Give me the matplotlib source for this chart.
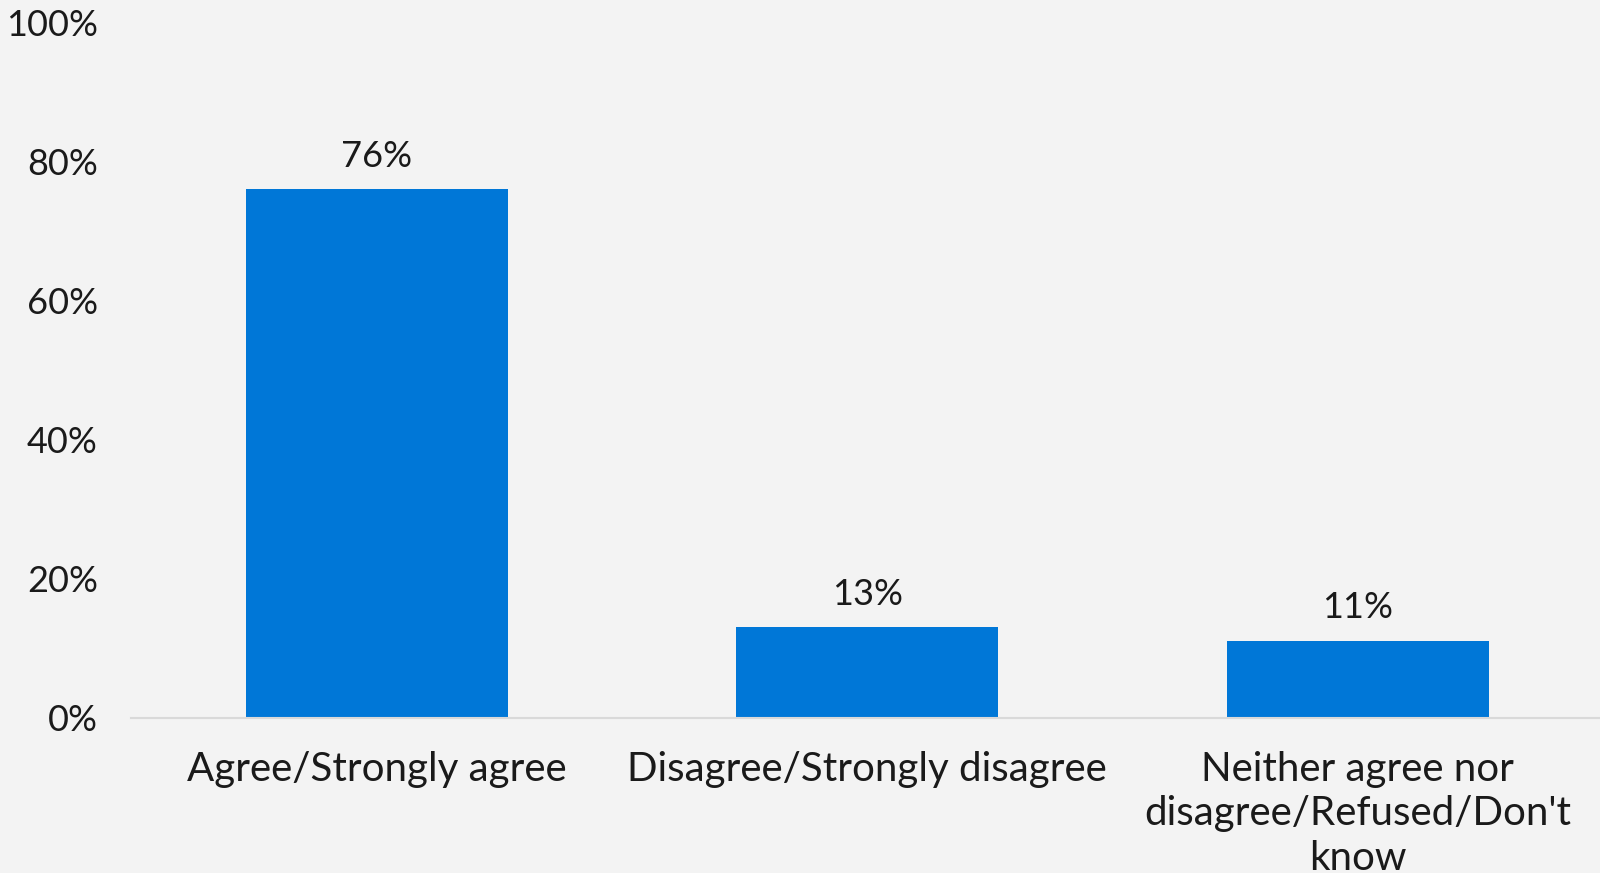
import numpy as np
import matplotlib.pyplot as plt
from matplotlib.ticker import FuncFormatter

categories = ["Agree/Strongly agree",
              "Disagree/Strongly disagree",
              "Neither agree nor\ndisagree/Refused/Don't\nknow"]
values = [76, 13, 11]
yticks = [0, 20, 40, 60, 80, 100]

bg = "#f3f3f3"
bar_color = "#0077d7"

plt.rcParams['font.family'] = ['Lato', 'DejaVu Sans']

fig = plt.figure(figsize=(16, 8.73), dpi=100, facecolor=bg)
ax = fig.add_axes([0.082, 0.178, 0.92, 0.796])
ax.set_facecolor(bg)

x = np.arange(len(categories))
bars = ax.bar(x, values, width=0.534, color=bar_color, zorder=2)

for xi, v in zip(x, values):
    ax.annotate(f"{v}%", (xi, v), xytext=(0, 12), textcoords="offset points",
                ha="center", va="bottom", fontsize=26, color="#1a1a1a")

ax.set_xlim(-0.5, 2.5)
ax.set_ylim(0, 100)
ax.set_yticks(yticks)
ax.yaxis.set_major_formatter(FuncFormatter(lambda v, p: f"{v:.0f}%"))
ax.set_xticks(x)
ax.set_xticklabels(categories, linespacing=1.25)

for s in ["top", "right", "left"]:
    ax.spines[s].set_visible(False)
ax.spines["bottom"].set_color("#d9d9d9")
ax.spines["bottom"].set_linewidth(1.5)

ax.tick_params(axis="y", length=0, pad=24, labelsize=26, labelcolor="#1a1a1a")
ax.tick_params(axis="x", length=0, pad=24, labelsize=29, labelcolor="#1a1a1a")

fig.savefig("out.png", dpi=100, facecolor=bg)
